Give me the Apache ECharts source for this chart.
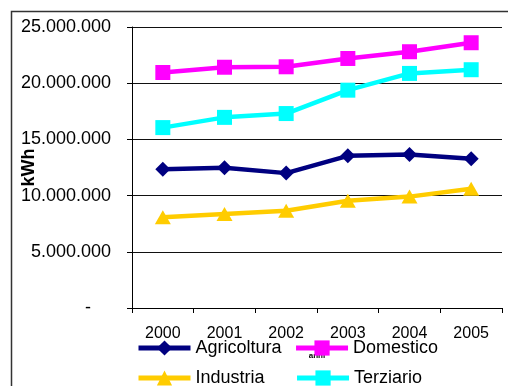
<!DOCTYPE html>
<html><head><meta charset="utf-8">
<script src="https://cdn.jsdelivr.net/npm/echarts@6/dist/echarts.min.js"></script>
<style>html,body{margin:0;padding:0;background:#fff}#c{width:508px;height:386px}</style>
</head><body><div id="c"></div>
<script>
const years = ['2000','2001','2002','2003','2004','2005'];
const agricoltura = [12350000, 12470000, 12000000, 13540000, 13660000, 13280000];
const domestico = [20950000, 21420000, 21460000, 22200000, 22800000, 23600000];
const industria = [8070000, 8370000, 8660000, 9550000, 9910000, 10600000];
const terziario = [16050000, 16960000, 17300000, 19380000, 20870000, 21200000];
const yTicks = [0, 5000000, 10000000, 15000000, 20000000, 25000000];

const FONT = '"Liberation Sans", Arial, sans-serif';
function fmt(v){
  if (v === 0) return '-    ';
  return String(Math.round(v)).replace(/\B(?=(\d{3})+(?!\d))/g, '.');
}
const chart = echarts.init(document.getElementById('c'), null, {renderer:'canvas'});
function mk(name, data, color, symbol, size){
  return {name, type:'line', data, color, symbol, symbolSize:size, showSymbol:true,
    lineStyle:{color, width:4.5}, itemStyle:{color}, animation:false};
}
const legText = {fontSize:18, color:'#000', fontFamily:FONT};
chart.setOption({
  animation:false,
  textStyle:{fontFamily:FONT, color:'#000'},
  graphic:[{type:'rect', shape:{x:11.5, y:11.5, width:700, height:600},
    style:{fill:'none', stroke:'#333', lineWidth:1.5}, z:-1}],
  grid:{left:132, right:6, top:27, bottom:78, containLabel:false, outerBoundsMode:'none'},
  xAxis:{type:'category', data:years, boundaryGap:true,
    name:'anni', nameLocation:'middle', nameGap:44, nameMoveOverlap:false,
    nameTextStyle:{fontSize:8, fontWeight:'bold', color:'#000', fontFamily:FONT},
    axisLine:{lineStyle:{color:'#000', width:1}},
    axisTick:{show:true, length:5, lineStyle:{color:'#000'}},
    axisLabel:{fontSize:16, color:'#000', margin:18, fontFamily:FONT, interval:0}},
  yAxis:{type:'value', min:yTicks[0], max:yTicks[yTicks.length-1], interval:5000000,
    name:'kWh', nameLocation:'middle', nameRotate:90, nameGap:94, nameMoveOverlap:false,
    nameTextStyle:{fontSize:18, fontWeight:'bold', color:'#000', fontFamily:FONT},
    axisLine:{show:true, lineStyle:{color:'#000', width:1}},
    axisTick:{show:true, length:5, lineStyle:{color:'#000'}},
    splitLine:{show:true, lineStyle:{color:'#111', width:1}},
    axisLabel:{fontSize:18, color:'#000', margin:21, fontFamily:FONT, formatter:fmt}},
  legend:[
    {data:['Agricoltura','Domestico'], left:136, top:339, padding:0, itemWidth:52, itemHeight:19, itemGap:12,
      lineStyle:{width:5}, textStyle:legText},
    {data:['Industria','Terziario'], left:136, top:369, padding:0, itemWidth:52, itemHeight:19, itemGap:30,
      lineStyle:{width:5}, textStyle:legText}
  ],
  series:[
    mk('Agricoltura', agricoltura, '#000080', 'diamond', 15),
    mk('Domestico', domestico, '#FF00FF', 'rect', 15),
    mk('Industria', industria, '#FFCC00', 'triangle', [16,14]),
    mk('Terziario', terziario, '#00FFFF', 'rect', 15)
  ]
});
</script></body></html>
